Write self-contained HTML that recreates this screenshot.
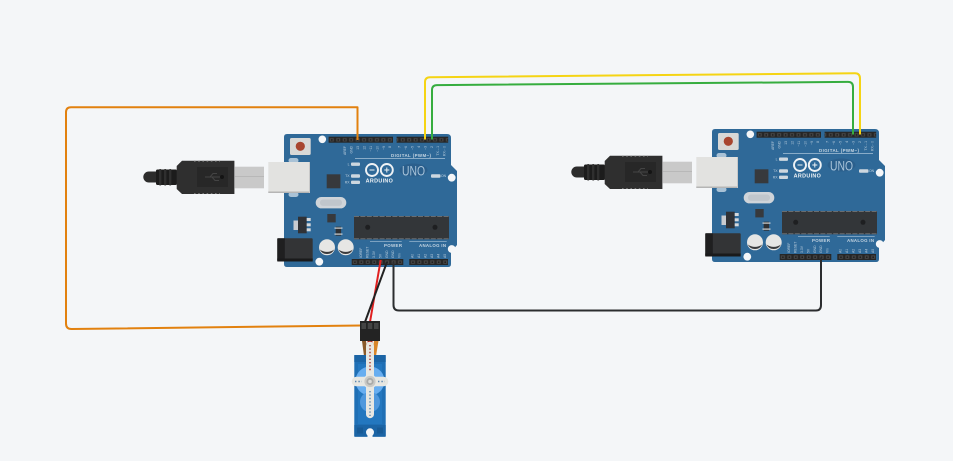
<!DOCTYPE html>
<html><head><meta charset="utf-8"><style>
html,body{margin:0;padding:0;background:#f4f6f8;width:953px;height:461px;overflow:hidden}
svg{display:block}
text{font-family:"Liberation Sans",sans-serif}
</style></head><body>
<svg width="953" height="461" viewBox="0 0 953 461" xmlns="http://www.w3.org/2000/svg">
<defs>
<pattern id="slots" x="328.6" y="136.7" width="6.45" height="6" patternUnits="userSpaceOnUse">
<rect width="6.45" height="6" fill="#262626"/><rect x="1.2" y="1.4" width="4" height="3.4" fill="#464646"/><rect x="2.4" y="2.4" width="1.6" height="1.6" fill="#1f1f1f"/></pattern>
<pattern id="slotsb" x="351.7" y="259" width="6.45" height="6" patternUnits="userSpaceOnUse">
<rect width="6.45" height="6" fill="#262626"/><rect x="1.2" y="1.4" width="4" height="3.4" fill="#464646"/><rect x="2.4" y="2.4" width="1.6" height="1.6" fill="#1f1f1f"/></pattern>
<g id="usb">
<path d="M156 171.5H148.8a5.5 5.5 0 0 0 0 11H156Z" fill="#2c2c2c"/>
<rect x="156" y="169.5" width="21" height="15.5" rx="1.5" fill="#1c1c1c"/>
<rect x="159" y="169" width="2.4" height="16.5" rx="1" fill="#2f2f2f"/><rect x="164" y="169" width="2.4" height="16.5" rx="1" fill="#2f2f2f"/><rect x="169" y="169" width="2.4" height="16.5" rx="1" fill="#2f2f2f"/>
<path d="M182 160.7H234.4V194H182L176.7 189V166Z" fill="#2f2f2f"/>
<path d="M194 161.2H220" stroke="#777" stroke-width="1" stroke-dasharray="1.6 2.6"/>
<path d="M194 193.5H220" stroke="#777" stroke-width="1" stroke-dasharray="1.6 2.6"/>
<rect x="197" y="167" width="31" height="20" fill="#272727"/>
<path d="M205 177H224M210 177L213 173.5H217M212 177L215 180.5H219" stroke="#444" stroke-width="1" fill="none"/><circle cx="222" cy="177" r="2" fill="#141414"/>
<rect x="234.4" y="166.7" width="29.6" height="21.6" fill="#c9c9c9"/>
<rect x="234.4" y="176" width="29.6" height="1" fill="#b8b8b8"/>
</g>
<g id="board">
<path d="M287 134H447Q451 134 451 138V165L457 171V245L451 252V264Q451 267 448 267H287Q284 267 284 264V137Q284 134 287 134Z" fill="#2f6998"/>
<rect x="328.6" y="136.7" width="64.4" height="6" fill="url(#slots)"/>
<rect x="396.6" y="136.7" width="51.6" height="6" fill="url(#slots)"/>
<rect x="351.7" y="259" width="51.6" height="6" fill="url(#slotsb)"/>
<rect x="409.3" y="259" width="38.7" height="6" fill="url(#slotsb)"/>
<rect x="290" y="138" width="20.7" height="17" rx="1.5" fill="#d8d8d6"/>
<circle cx="300.3" cy="146.3" r="4.6" fill="#a8452f"/>
<circle cx="322.3" cy="139.3" r="3.8" fill="#f4f6f8"/><circle cx="451.7" cy="177.7" r="3.9" fill="#f4f6f8"/><circle cx="451.7" cy="249" r="3.9" fill="#f4f6f8"/><circle cx="319.3" cy="261.7" r="3.9" fill="#f4f6f8"/>
<rect x="288.5" y="158" width="10" height="5" rx="2.5" fill="#a9c2d6"/><rect x="288.5" y="192" width="10" height="5" rx="2.5" fill="#a9c2d6"/>
<rect x="268.3" y="162" width="41.7" height="31" fill="#e2e2e0"/><rect x="268.3" y="191.5" width="41.7" height="1.5" fill="#b5b5b5"/><rect x="309" y="162" width="1" height="31" fill="#c8c8c8"/>
<rect x="326.7" y="174.3" width="13.7" height="14" fill="#37393c"/>
<rect x="327.3" y="214" width="8.4" height="8.4" fill="#37393c"/>
<rect x="315.7" y="197" width="30.6" height="11.4" rx="5.7" fill="#cfd4d9"/>
<rect x="320" y="199.5" width="22" height="6.4" rx="3" fill="#c0c6cc"/>
<rect x="293.5" y="220.5" width="5" height="9.5" fill="#c9ccd0"/>
<rect x="298" y="216.7" width="8.7" height="16.6" fill="#303236"/>
<rect x="306.7" y="218" width="4" height="3" fill="#d5d8db"/><rect x="306.7" y="223.3" width="4" height="3" fill="#d5d8db"/><rect x="306.7" y="228.3" width="4" height="3" fill="#d5d8db"/>
<rect x="335.7" y="226.7" width="5.4" height="9" fill="#2e3033"/><rect x="334.5" y="227.5" width="8" height="1.2" fill="#cfd3d6"/><rect x="334.5" y="233.5" width="8" height="1.2" fill="#cfd3d6"/>
<rect x="354" y="216" width="95" height="23.3" fill="#333639"/>
<path d="M354 216.5H449M354 238.8H449" stroke="#6a6d70" stroke-width="1" stroke-dasharray="5 1.4"/>
<circle cx="367.7" cy="227.3" r="2.5" fill="#1e1f21"/><circle cx="435" cy="227.3" r="2.5" fill="#1e1f21"/>
<rect x="277.3" y="238.3" width="35.4" height="22.7" rx="1" fill="#333436"/><rect x="277.3" y="238.3" width="7.5" height="22.7" fill="#1f1f20"/><rect x="277.3" y="258.5" width="35.4" height="3" fill="#1a1a1b"/>
<circle cx="327" cy="247.3" r="8" fill="#e6e6e4"/><path d="M319.8 249.5a8 8 0 0 0 14.4 0a12 12 0 0 1-14.4 0Z" fill="#3a3b3d"/>
<circle cx="345.7" cy="247.3" r="8" fill="#e6e6e4"/><path d="M338.5 249.5a8 8 0 0 0 14.4 0a12 12 0 0 1-14.4 0Z" fill="#3a3b3d"/>
<g fill="none" stroke="#eef2f5" stroke-width="1.9"><circle cx="372" cy="170" r="6"/><circle cx="386.8" cy="170" r="6"/></g>
<path d="M369.5 170H374.5M384.3 170H389.3M386.8 167.5V172.5" stroke="#eef2f5" stroke-width="1"/>
<text x="379.4" y="182.7" font-size="5.4" font-weight="700" fill="#eef2f5" text-anchor="middle" letter-spacing=".35">ARDUINO</text>
<ellipse cx="413.5" cy="170" rx="14" ry="6.5" fill="#2b5f8c"/>
<text x="413.5" y="175.5" font-size="13.5" fill="#a9c4da" text-anchor="middle" textLength="23" lengthAdjust="spacingAndGlyphs">UNO</text>
<path d="M355 158.5H445" stroke="#a9c3d8" stroke-width=".7"/>
<text x="411" y="157" font-size="4.4" font-weight="700" fill="#c5d5e2" text-anchor="middle" textLength="40">DIGITAL (PWM~)</text>
<path d="M370 241.7H401.7M409.3 241.7H446.7" stroke="#a9c3d8" stroke-width=".7"/>
<text x="393" y="247" font-size="4.4" font-weight="700" fill="#c5d5e2" text-anchor="middle" textLength="18">POWER</text>
<text x="432.5" y="247" font-size="4.4" font-weight="700" fill="#c5d5e2" text-anchor="middle" textLength="27">ANALOG IN</text>
<g fill="#cdd7df"><rect x="351" y="162.5" width="9" height="3.4" rx="1"/><rect x="351" y="174.3" width="9" height="3.4" rx="1"/><rect x="351" y="180.6" width="9" height="3.4" rx="1"/><rect x="431" y="174.3" width="9.5" height="3.4" rx="1"/></g>
<g font-size="3.4" fill="#c5d5e2" text-anchor="end"><text x="349.5" y="165.3">L</text><text x="349.5" y="177.2">TX</text><text x="349.5" y="183.5">RX</text></g>
<text x="441" y="177.2" font-size="3.4" fill="#c5d5e2">ON</text>
<g font-size="3.4" fill="#b8cbdb" text-anchor="end">
<text transform="translate(346,146) rotate(-90)">AREF</text><text transform="translate(352.5,146) rotate(-90)">GND</text><text transform="translate(359,146) rotate(-90)">13</text><text transform="translate(365.4,146) rotate(-90)">12</text><text transform="translate(371.9,146) rotate(-90)">~11</text><text transform="translate(378.3,146) rotate(-90)">~10</text><text transform="translate(384.8,146) rotate(-90)">~9</text><text transform="translate(391.2,146) rotate(-90)">8</text>
<text transform="translate(400.5,146) rotate(-90)">7</text><text transform="translate(407,146) rotate(-90)">~6</text><text transform="translate(413.4,146) rotate(-90)">~5</text><text transform="translate(419.9,146) rotate(-90)">4</text><text transform="translate(426.3,146) rotate(-90)">~3</text><text transform="translate(432.8,146) rotate(-90)">2</text><text transform="translate(439.2,146) rotate(-90)">TX→1</text><text transform="translate(445.7,146) rotate(-90)">RX←0</text>
</g>
<g font-size="3.4" fill="#b8cbdb" text-anchor="start">
<text transform="translate(362,258) rotate(-90)">IOREF</text><text transform="translate(368.4,258) rotate(-90)">RESET</text><text transform="translate(374.9,258) rotate(-90)">3.3V</text><text transform="translate(381.3,258) rotate(-90)">5V</text><text transform="translate(387.8,258) rotate(-90)">GND</text><text transform="translate(394.2,258) rotate(-90)">GND</text><text transform="translate(400.7,258) rotate(-90)">Vin</text>
<text transform="translate(413.5,258) rotate(-90)">A0</text><text transform="translate(420,258) rotate(-90)">A1</text><text transform="translate(426.4,258) rotate(-90)">A2</text><text transform="translate(432.9,258) rotate(-90)">A3</text><text transform="translate(439.3,258) rotate(-90)">A4</text><text transform="translate(445.8,258) rotate(-90)">A5</text>
</g>
</g>
</defs>
<rect width="953" height="461" fill="#f4f6f8"/>
<use href="#board"/>
<use href="#usb"/>
<use href="#board" transform="translate(428,-5)"/>
<use href="#usb" transform="translate(428,-5)"/>

<g fill="none" stroke-width="2" stroke-linejoin="round">
<path d="M357.5 140V107.3H71Q66 107.3 66 112.3V323.5Q66 329 71.5 329L361 325.5" stroke="#e2810f"/>
<path d="M425 139.5V82Q425 77.3 430 77.2L855 73.2Q860 73.2 860 78.5V134.5" stroke="#f5d414"/>
<path d="M432 139.5V90Q432 85.2 437 85.1L848 81.9Q853 81.9 853 87V134.5" stroke="#36ad3f"/>
<path d="M393.5 262V305Q393.5 310.5 399 310.5H816Q821 310.5 821 305V257.5" stroke="#2b2d2f"/>
</g>
<path d="M380.7 260L370 322" stroke="#e01f1f" stroke-width="2" fill="none"/>
<path d="M387 262L365 322" stroke="#222" stroke-width="2" fill="none"/>

<!-- servo -->
<path d="M362 341L364 356H368L366 341Z" fill="#8a5a2a"/>
<path d="M367.5 341H372.5V356H367.5Z" fill="#b02a20"/>
<path d="M374 341L372 356H376L378.5 341Z" fill="#d9862a"/>
<rect x="354.3" y="355" width="31.4" height="81.7" rx=".8" fill="#1f6fb5"/>
<rect x="354.3" y="355" width="31.4" height="7" fill="#1b64a5"/>
<rect x="354.3" y="425" width="31.4" height="11.7" fill="#1b64a5"/>
<rect x="358" y="364" width="24" height="60" fill="#2377bf"/>
<circle cx="370" cy="381" r="14.5" fill="#68aef0"/>
<circle cx="370" cy="402" r="10" fill="#4f98dd"/>
<rect x="357" y="427.5" width="6" height="6" fill="#175a96"/><rect x="377" y="427.5" width="6" height="6" fill="#175a96"/>
<circle cx="370" cy="432.3" r="4" fill="#f4f6f8"/><rect x="367.5" y="432" width="5" height="5" fill="#f4f6f8"/>
<rect x="366" y="341.7" width="8" height="76.5" rx="4" fill="#e7e7e2"/>
<rect x="351.7" y="376.7" width="36.6" height="9.6" rx="4.8" fill="#e7e7e2"/>
<circle cx="370" cy="381.5" r="7" fill="#e7e7e2"/>
<circle cx="370" cy="381.5" r="5.6" fill="#c9c9c6"/><circle cx="370" cy="381.5" r="3.6" fill="#a9aaa8"/><circle cx="370" cy="381.5" r="1.8" fill="#dcdcd9"/>
<path d="M370 345V372" stroke="#a8332a" stroke-width="1.4" stroke-dasharray="1.4 2"/>
<path d="M370 391V416" stroke="#5b86ad" stroke-width="1.4" stroke-dasharray="1.4 2"/>
<path d="M355 381.5H362M378 381.5H385" stroke="#5b86ad" stroke-width="1.4" stroke-dasharray="1.4 2"/>
<rect x="360" y="321" width="20" height="20" fill="#232323"/>
<rect x="361.5" y="323" width="4.5" height="6" fill="#444"/><rect x="367.8" y="323" width="4.5" height="6" fill="#444"/><rect x="374" y="323" width="4.5" height="6" fill="#444"/>
</svg>
</body></html>
